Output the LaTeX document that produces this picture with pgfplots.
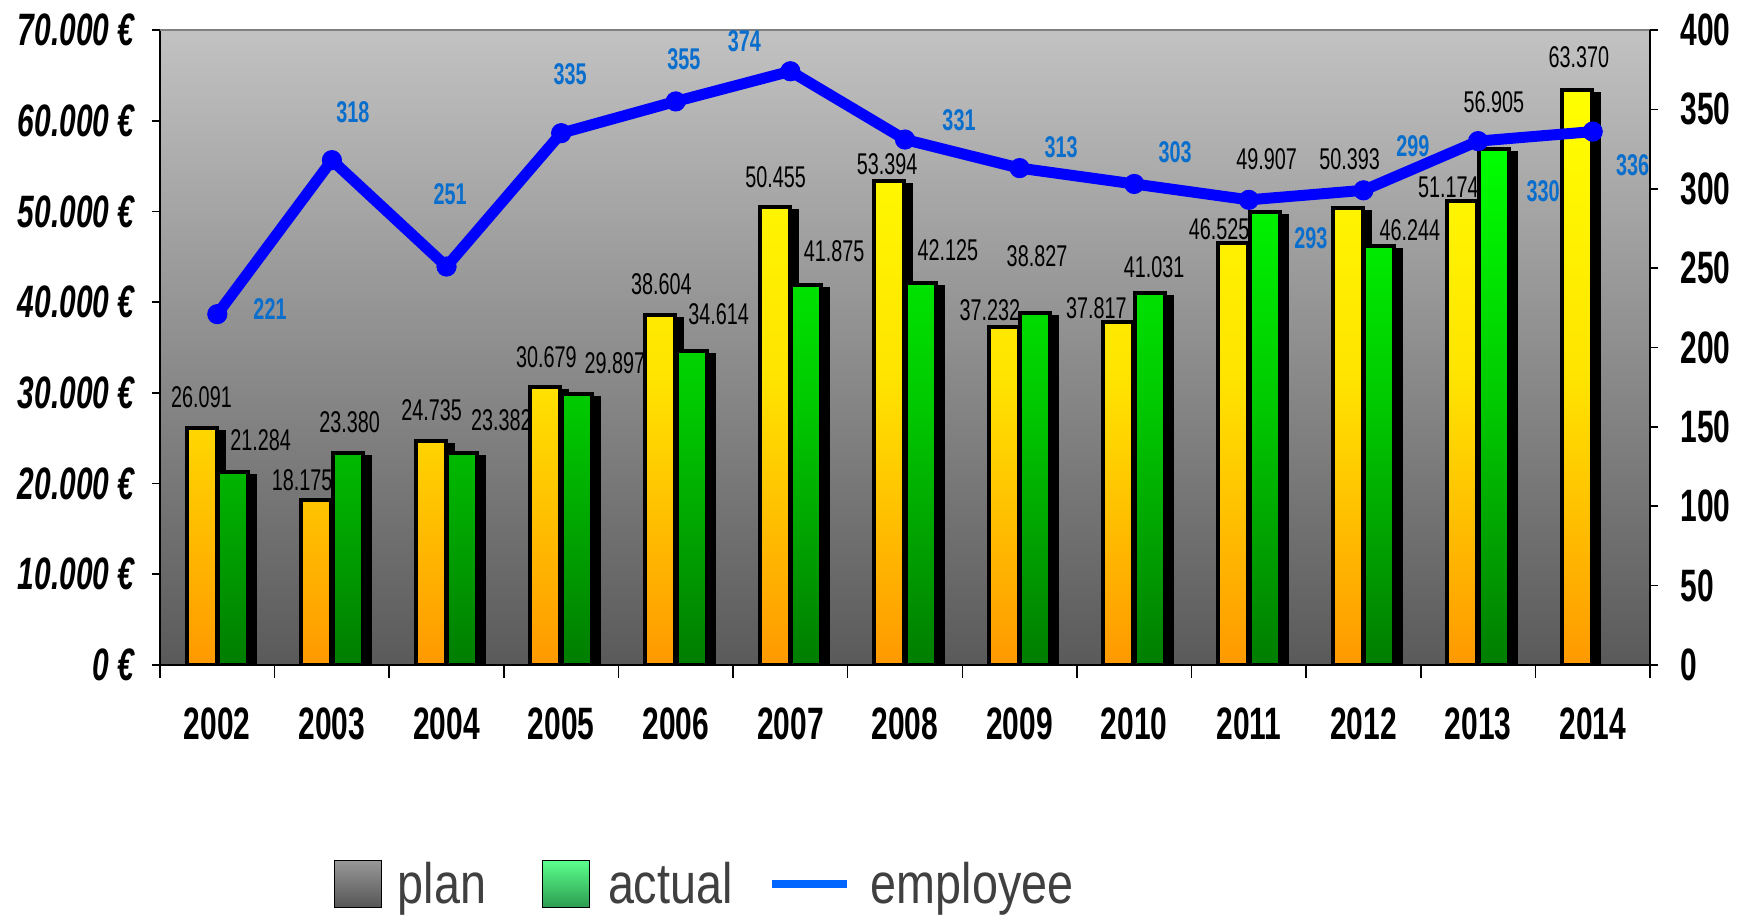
\documentclass[border=0pt]{standalone}
\usepackage{fontspec}
\setmainfont{Liberation Sans}
\newfontfamily\cf{Liberation Sans}[FakeStretch=0.66]
\newfontfamily\lf{Liberation Sans}[FakeStretch=0.82]
\usepackage{pgfplots}
\pgfplotsset{compat=1.18}
\definecolor{bgtop}{RGB}{194,194,194}
\definecolor{bgbot}{RGB}{90,90,90}
\definecolor{ylw}{RGB}{255,255,0}
\definecolor{ylwmid}{RGB}{255,228,0}
\definecolor{org}{RGB}{255,153,0}
\definecolor{grtop}{RGB}{0,255,0}
\definecolor{grmid}{RGB}{0,200,0}
\definecolor{grbot}{RGB}{0,125,0}
\definecolor{emp}{RGB}{0,0,255}
\definecolor{emplab}{RGB}{10,110,205}
\definecolor{lgA}{RGB}{152,152,152}
\definecolor{lgB}{RGB}{85,85,85}
\definecolor{lnA}{RGB}{90,255,140}
\definecolor{lnB}{RGB}{45,155,80}
\definecolor{legline}{RGB}{0,102,255}
\definecolor{legtext}{RGB}{64,64,64}
\definecolor{topline}{RGB}{128,128,128}
\begin{document}
\begin{tikzpicture}
\begin{axis}[
  name=main,
  scale only axis, width=745pt, height=317.5pt,
  xmin=-0.5, xmax=12.5, ymin=0, ymax=70000,
  axis x line*=bottom, axis y line*=left,
  axis line style={black, line width=0.8pt},
  axis background/.style={shade, top color=bgtop, bottom color=bgbot},
  xtick={0,...,12},
  xticklabels={2002,2003,2004,2005,2006,2007,2008,2009,2010,2011,2012,2013,2014},
  every major x tick/.append style={draw=none},
  minor xtick={-0.5,0.5,...,12.5},
  minor tick length=6.5pt, major tick length=4pt, tick align=outside,
  tick style={black, line width=0.8pt},
  ytick={0,10000,...,70000},
  scaled y ticks=false,
  /pgf/number format/fixed,
  /pgf/number format/precision=0,
  /pgf/number format/1000 sep={.},
  /pgf/number format/assume math mode=true,
  yticklabel={\pgfmathprintnumber{\tick}~€},
  yticklabel style={font=\cf\bfseries\itshape\fontsize{22.7}{24}\selectfont, anchor=east, inner sep=0pt, xshift=-8.5pt},
  xticklabel style={font=\cf\bfseries\fontsize{22.7}{24}\selectfont, anchor=north, inner sep=0pt, yshift=-17pt},
  after end axis/.code={\draw[topline, line width=0.8pt] (rel axis cs:0,1) -- (rel axis cs:1,1);},
  legend columns=3,
  legend cell align=left,
  legend style={at={(axis description cs:0.1168,-0.351)}, anchor=west, draw=none, fill=none, inner sep=0pt, outer sep=0pt,
    nodes={inner sep=0pt, text height=20.8pt, text depth=6pt, font=\lf\fontsize{28.5}{30}\selectfont, text=legtext},
    /tikz/column 1/.style={column sep=8pt},
    /tikz/column 2/.style={column sep=28pt},
    /tikz/column 3/.style={column sep=9pt},
    /tikz/column 4/.style={column sep=17.5pt},
    /tikz/column 5/.style={column sep=10pt}},
]
\addplot[ybar, bar width=15pt, bar shift=-7.9pt, forget plot,
  draw=black, line width=2pt,
  top color=ylw, bottom color=org, middle color=ylwmid,
  preaction={draw=black, fill=black, top color=black, bottom color=black, middle color=black, transform canvas={xshift=3.5pt, yshift=-2pt}},
  nodes near coords,
  visualization depends on={value \thisrow{dx}\as\dx},
  visualization depends on={value \thisrow{dy}\as\dy},
  every node near coord/.append style={anchor=center, xshift=\dx pt, yshift=\dy pt, font=\cf\fontsize{15}{16}\selectfont, text=black, inner sep=0pt},
] table[x=x, y=y] {
x y dx dy
0 26091 -7.9 15.5
1 18175 -14.9 10
2 24735 -7.4 15
3 30679 -7.4 15
4 38604 -7.15 15.5
5 50455 -7.4 15.3
6 53394 -8.9 8
7 37232 -14.9 8.3
8 37817 -18.9 7
9 46525 -14.9 7
10 50393 -6.9 24.5
11 51174 -14.9 6.75
12 63370 -6.9 16.5
};
\addplot[ybar, bar width=15pt, bar shift=7.9pt, forget plot,
  draw=black, line width=2pt,
  top color=grtop, bottom color=grbot, middle color=grmid,
  preaction={draw=black, fill=black, top color=black, bottom color=black, middle color=black, transform canvas={xshift=3.5pt, yshift=-2pt}},
  nodes near coords,
  visualization depends on={value \thisrow{dx}\as\dx},
  visualization depends on={value \thisrow{dy}\as\dy},
  every node near coord/.append style={anchor=center, xshift=\dx pt, yshift=\dy pt, font=\cf\fontsize{15}{16}\selectfont, text=black, inner sep=0pt},
] table[x=x, y=y] {
x y dx dy
0 21284 21.7 16
1 23380 8.9 15.5
2 23382 27.4 16.5
3 29897 26.9 15.25
4 34614 21.4 18.5
5 41875 21.9 17
6 42125 21.4 16.5
7 38827 8.7 28.5
8 41031 9.9 12.75
9 49907 8.9 26.5
10 46244 23.2 7.75
11 56905 7.9 23.5
};
\addlegendimage{legend image code/.code={\shade[top color=lgA, bottom color=lgB] (0pt,-9.5pt) rectangle (23.5pt,14pt);}}
\addlegendentry{plan}
\addlegendimage{legend image code/.code={\shade[top color=lnA, bottom color=lnB] (0pt,-9.5pt) rectangle (23.5pt,14pt);}}
\addlegendentry{actual}
\addlegendimage{legend image code/.code={\draw[legline, line width=4pt] (0pt,2.5pt) -- (37.5pt,2.5pt);}}
\addlegendentry{employee}
\end{axis}
\begin{axis}[
  scale only axis, width=745pt, height=317.5pt,
  xmin=-0.5, xmax=12.5, ymin=0, ymax=400,
  axis x line=none, axis y line*=right,
  axis line style={black, line width=0.8pt},
  xtick=\empty,
  ytick={0,50,...,400},
  major tick length=4pt, tick align=outside,
  tick style={black, line width=0.8pt},
  /pgf/number format/fixed,
  /pgf/number format/precision=0,
  /pgf/number format/assume math mode=true,
  yticklabel style={font=\cf\bfseries\fontsize{22.7}{24}\selectfont, anchor=west, inner sep=0pt, xshift=11pt},
]
\addplot[emp, line width=5.5pt, line join=round, mark=*, mark size=4.8pt,
  mark options={fill=emp, draw=emp, line width=0.5pt},
  nodes near coords,
  visualization depends on={value \thisrow{dx}\as\dx},
  visualization depends on={value \thisrow{dy}\as\dy},
  every node near coord/.append style={anchor=center, xshift=\dx pt, yshift=\dy pt, font=\cf\bfseries\fontsize{15}{16}\selectfont, text=emplab, inner sep=0pt},
] table[x=x, y=y] {
x y dx dy
0 221 26.35 2.5
1 318 10.5 24
2 251 1.75 36.25
3 335 4.5 29.5
4 355 4 21
5 374 -23 14.8
6 331 27 9.5
7 313 20.75 10.5
8 303 20.5 16
9 293 31 -19
10 299 24.75 22.3
11 330 32.5 -24.8
12 336 20 -17
};
\end{axis}
\path (main.south west) ++(-80pt,-122.5pt) rectangle ++(875pt,455pt);
\end{tikzpicture}
\end{document}
